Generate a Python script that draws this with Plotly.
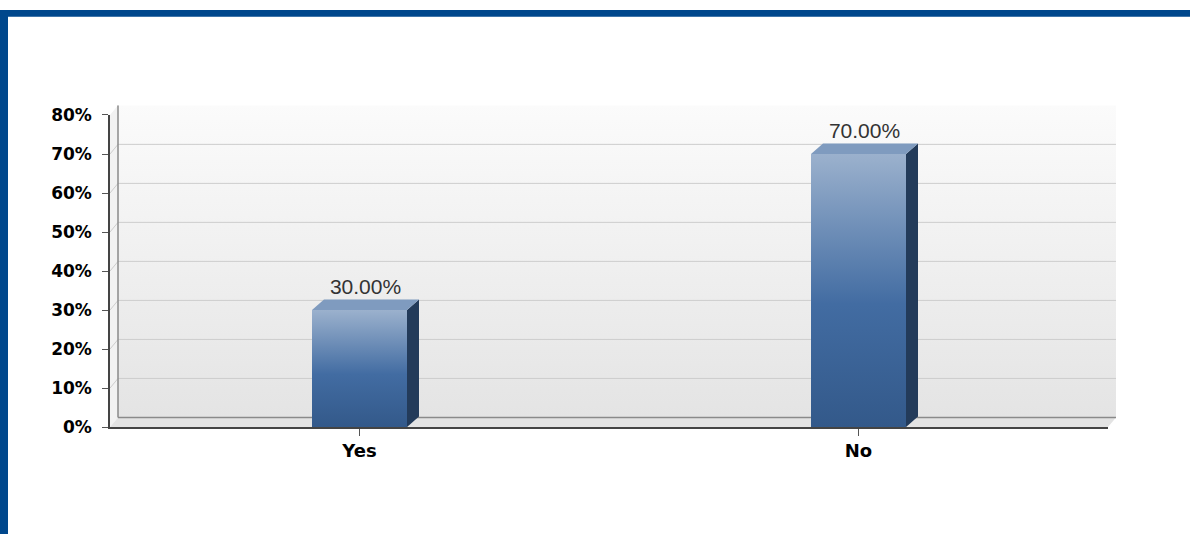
"""
Survey answer chart - Yes / No share, drawn as pseudo-3D columns.
"""

import plotly.graph_objects as go

# ==========================================================
# Data
# ==========================================================

categories = ["Yes", "No"]
shares = [30.0, 70.0]
y_ticks = [0, 10, 20, 30, 40, 50, 60, 70, 80]

# ==========================================================
# Geometry (pixels of the 1190 x 544 page)
# ==========================================================

W, H = 1190, 544

FRONT_LEFT, FRONT_RIGHT = 110, 1108
FRONT_BOTTOM, FRONT_TOP = 433, 109

WALL_DX, WALL_DY = 8, 10          # back wall offset
BAR_DX, BAR_DY = 12, 11           # column depth
BAR_W = 95

X_MIN, X_MAX = -0.5, len(categories) - 0.5
Y_MIN, Y_MAX = 0, 80

px_x = (FRONT_RIGHT - FRONT_LEFT) / (X_MAX - X_MIN)
px_y = (FRONT_BOTTOM - FRONT_TOP) / (Y_MAX - Y_MIN)

wdx, wdy = WALL_DX / px_x, WALL_DY / px_y
bdx, bdy = BAR_DX / px_x, BAR_DY / px_y
half = BAR_W / px_x / 2

fig = go.Figure()

# ==========================================================
# Back wall, side wall and floor (subplot x / y)
# ==========================================================

wall_l, wall_r = X_MIN + wdx, X_MAX + wdx

fig.add_trace(
    go.Scatter(
        x=[wall_l, wall_r, wall_r, wall_l],
        y=[wdy, wdy, Y_MAX + wdy, Y_MAX + wdy],
        fill="toself",
        fillgradient=dict(
            type="vertical",
            colorscale=[[0, "#e4e4e4"], [1, "#fbfbfb"]],
        ),
        mode="none",
        hoverinfo="skip",
        showlegend=False,
    )
)

fig.add_trace(
    go.Scatter(
        x=[X_MIN, wall_l, wall_l, X_MIN],
        y=[0, wdy, Y_MAX + wdy, Y_MAX],
        fill="toself",
        fillcolor="#f2f2f2",
        mode="none",
        hoverinfo="skip",
        showlegend=False,
    )
)

fig.add_trace(
    go.Scatter(
        x=[X_MIN, X_MAX, wall_r, wall_l],
        y=[0, 0, wdy, wdy],
        fill="toself",
        fillcolor="#e3e3e3",
        mode="none",
        hoverinfo="skip",
        showlegend=False,
    )
)

# grid lines on the back wall + short diagonals on the side wall
gx, gy = [], []
for v in y_ticks[1:-1]:
    gx += [X_MIN, wall_l, wall_r, None]
    gy += [v, v + wdy, v + wdy, None]

fig.add_trace(
    go.Scatter(
        x=gx,
        y=gy,
        mode="lines",
        line=dict(color="#cdcdcd", width=1),
        hoverinfo="skip",
        showlegend=False,
    )
)

fig.add_trace(
    go.Scatter(
        x=[wall_l, wall_l, None, wall_l, wall_r],
        y=[Y_MAX + wdy, wdy, None, wdy, wdy],
        mode="lines",
        line=dict(color="#8a8a8a", width=1.5),
        hoverinfo="skip",
        showlegend=False,
    )
)

# ==========================================================
# Columns (subplot x2 / y2)
# ==========================================================

for i, v in enumerate(shares):

    l, r = i - half, i + half

    # front face
    fig.add_trace(
        go.Scatter(
            x=[l, r, r, l],
            y=[0, 0, v, v],
            xaxis="x2",
            yaxis="y2",
            fill="toself",
            fillgradient=dict(
                type="vertical",
                colorscale=[
                    [0, "#33598a"],
                    [0.45, "#426ca2"],
                    [1, "#9bb1cd"],
                ],
            ),
            mode="none",
            hoverinfo="skip",
            showlegend=False,
        )
    )

    # side face
    fig.add_trace(
        go.Scatter(
            x=[r, r + bdx, r + bdx, r],
            y=[0, bdy, v + bdy, v],
            xaxis="x2",
            yaxis="y2",
            fill="toself",
            fillcolor="#233b5a",
            mode="none",
            hoverinfo="skip",
            showlegend=False,
        )
    )

    # top face
    fig.add_trace(
        go.Scatter(
            x=[l, r, r + bdx, l + bdx],
            y=[v, v, v + bdy, v + bdy],
            xaxis="x2",
            yaxis="y2",
            fill="toself",
            fillcolor="#7f9bbf",
            mode="none",
            hoverinfo="skip",
            showlegend=False,
        )
    )

# value labels
fig.add_trace(
    go.Scatter(
        x=[i + bdx / 2 for i in range(len(shares))],
        y=[v + bdy for v in shares],
        xaxis="x2",
        yaxis="y2",
        mode="text",
        text=[f"{v:.2f}%" for v in shares],
        textposition="top center",
        textfont=dict(family="Liberation Sans", size=21, color="#333333"),
        cliponaxis=False,
        hoverinfo="skip",
        showlegend=False,
    )
)

# ==========================================================
# Layout
# ==========================================================

def fx(p):
    return p / W


def fy(p):
    return 1 - p / H


hidden = dict(visible=False, fixedrange=True)

fig.update_layout(
    width=W,
    height=H,
    autosize=False,
    margin=dict(l=0, r=0, t=0, b=0),
    paper_bgcolor="white",
    plot_bgcolor="rgba(0,0,0,0)",
    xaxis=dict(
        hidden,
        domain=[fx(FRONT_LEFT), fx(FRONT_RIGHT + WALL_DX + 1)],
        range=[X_MIN, X_MAX + (WALL_DX + 1) / px_x],
    ),
    yaxis=dict(
        hidden,
        domain=[fy(FRONT_BOTTOM), fy(FRONT_TOP - WALL_DY)],
        range=[Y_MIN, Y_MAX + wdy],
    ),
    xaxis2=dict(
        domain=[fx(FRONT_LEFT), fx(FRONT_RIGHT)],
        range=[X_MIN, X_MAX],
        anchor="y2",
        tickvals=list(range(len(categories))),
        ticktext=categories,
        ticks="outside",
        ticklen=7,
        tickcolor="#555555",
        showline=True,
        linecolor="#444444",
        linewidth=1.5,
        showgrid=False,
        zeroline=False,
        tickfont=dict(family="DejaVu Sans", size=18, color="#000000", weight="bold"),
        fixedrange=True,
    ),
    yaxis2=dict(
        domain=[fy(FRONT_BOTTOM), fy(FRONT_TOP)],
        range=[Y_MIN, Y_MAX],
        anchor="x2",
        tickvals=y_ticks,
        ticktext=[f"{t}%" for t in y_ticks],
        ticks="outside",
        ticklen=6,
        tickcolor="#555555",
        showline=True,
        linecolor="#444444",
        linewidth=1.5,
        showgrid=False,
        zeroline=False,
        ticklabelstandoff=7,
        tickfont=dict(family="DejaVu Sans", size=17, color="#000000", weight="bold"),
        fixedrange=True,
    ),
    shapes=[
        dict(
            type="rect", xref="paper", yref="paper",
            x0=0, x1=1, y0=fy(7), y1=1,
            fillcolor="#00478c", line=dict(width=0),
        ),
        dict(
            type="rect", xref="paper", yref="paper",
            x0=0, x1=fx(8), y0=0, y1=1,
            fillcolor="#00478c", line=dict(width=0),
        ),
    ],
)

# page body has an 8px default margin - drop it so the figure sits at 0,0
pin_to_corner = """
document.body.style.margin = '0';
document.body.style.overflow = 'hidden';
"""

fig.write_html(
    "out.html",
    config={"responsive": False, "displayModeBar": False},
    post_script=pin_to_corner,
)
